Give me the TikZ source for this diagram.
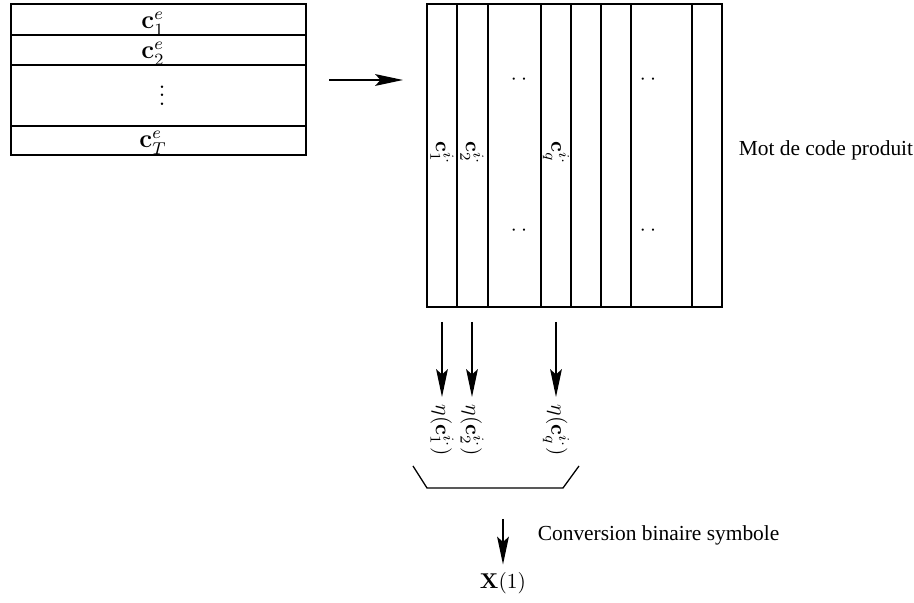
\documentclass[tikz,border=0pt]{standalone}
\usepackage[no-math]{fontspec}
\newfontfamily\timesfont{Liberation Serif}
\usetikzlibrary{arrows.meta}
\tikzset{
  flow/.style={-{Stealth[length=13pt,width=5.5pt,inset=2.5pt]}},
  vlabel/.style={rotate=-90},
  rowlabel/.style={font=\large, inner sep=0.5pt},
  txt/.style={anchor=west, font=\timesfont},
}

\begin{document}
\begin{tikzpicture}[x=0.0164cm, y=-0.0164cm, line width=0.6pt]
    \useasboundingbox (0,0) rectangle (914,603);
    % code words of the first code
    \draw (11,4) rectangle (306,155);
    \foreach \y in {35, 65, 126}
        \draw (11,\y) -- (306,\y);
    \node[rowlabel, anchor=base] (ce1) at (153,29) {$\mathbf{c}_1^e$};
    \node[rowlabel, anchor=base] (ce2) at (153,59) {$\mathbf{c}_2^e$};
    \node[rowlabel] (cdots) at (162,89) {$\vdots$};
    \node[rowlabel, anchor=base] (ceT) at (153,148) {$\mathbf{c}_T^e$};

    \coordinate (in1) at (329,80);
    \coordinate (in2) at (403,80);
    \draw[flow] (in1) -- (in2);

    % product code word
    \draw (427,4) rectangle (722,307);
    \foreach \x in {457, 488, 541, 571, 601, 631, 692}
        \draw (\x,4) -- (\x,307);
    \node[vlabel] (ci1) at (442,153) {$\mathbf{c}_1^{i\cdot}$};
    \node[vlabel] (ci2) at (472,153) {$\mathbf{c}_2^{i\cdot}$};
    \node[vlabel] (ciq) at (556,153) {$\mathbf{c}_q^{i\cdot}$};
    \foreach \x/\n in {519/a, 648/b}{
        \node (dt\n) at (\x,80) {$\cdot\hspace{2pt}\cdot$};
        \node (db\n) at (\x,231) {$\cdot\hspace{2pt}\cdot$};
    }
    \node[txt] (mot) at (731,150) {Mot de code produit};

    % columns sent to the mapping
    \foreach \x/\k in {442/1, 472/2, 556/q}{
        \coordinate (col\k) at (\x,322);
        \node[vlabel, anchor=west] (eta\k) at (\x,397) {$\eta(\mathbf{c}_\k^{i\cdot})$};
        \draw[flow] (col\k) -- (eta\k.west);
    }
    \draw (413,466) -- (427,488) -- (563,488) -- (579,466);

    \coordinate (conv) at (503,519);
    \node (xone) at (503,583) {$\mathbf{X}(1)$};
    \draw[flow] (conv) -- (xone);
    \node[txt] (convtxt) at (530,535) {Conversion binaire symbole};
\end{tikzpicture}
\end{document}
